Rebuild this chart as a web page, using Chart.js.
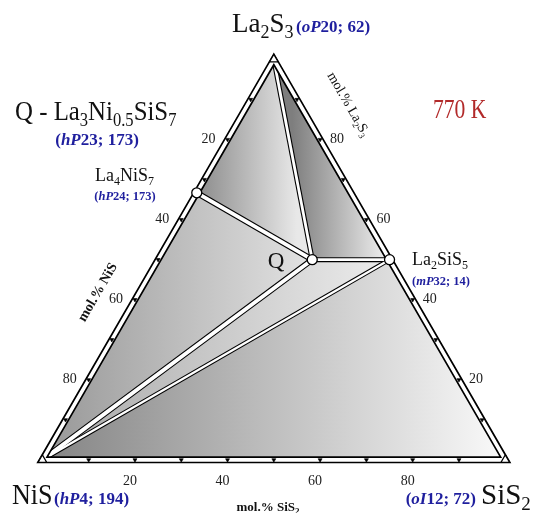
<!DOCTYPE html>
<html>
<head>
<meta charset="utf-8">
<script src="https://cdn.jsdelivr.net/npm/chart.js@4.4.1/dist/chart.umd.min.js"></script>
<style>
  html, body { margin: 0; padding: 0; background: #fff; }
  #wrap { width: 534px; height: 513px; }
</style>
</head>
<body>
<div id="wrap"><canvas id="chart" width="534" height="513"></canvas></div>
<script>
// La2S3 - NiS - SiS2 section at 770 K, compositions in mol.%
const phaseNames = ["La2S3", "NiS", "SiS2", "La4NiS7", "La2SiS5", "Q"];
const phaseLa2S3 = [100, 0, 0, 66.7, 50, 50];
const phaseNiS   = [0, 100, 0, 33.3, 0, 16.7];
const phaseSiS2  = [0, 0, 100, 0, 50, 33.3];

const tieLines = [["NiS", "Q"], ["NiS", "La2SiS5"], ["La4NiS7", "Q"], ["La2S3", "Q"], ["Q", "La2SiS5"]];
const regions = [
  ["La2S3", "La4NiS7", "Q"],
  ["La2S3", "Q", "La2SiS5"],
  ["La4NiS7", "NiS", "Q"],
  ["NiS", "La2SiS5", "Q"],
  ["NiS", "SiS2", "La2SiS5"]
];
const tickValues = [10, 20, 30, 40, 50, 60, 70, 80, 90];
const tickLabels = ["20", "40", "60", "80"];

// styling
const tieWidths = [6, 4.5, 6, 5, 5];
// gradient: from x, to x (cartesian units), colours
const regionShades = [
  [32, 55, "#858585", "#e8e8e8"],
  [54, 75, "#7e7e7e", "#f2f2f2"],
  [1, 58, "#989898", "#e2e2e2"],
  [1, 75, "#a8a8a8", "#ececec"],
  [1, 100, "#858585", "#fafafa"]
];
const SERIF = "'Liberation Serif', 'Times New Roman', serif";
const BLUE = "#1f1f9e";

function tern(la, ni, si) {
  const s = la + ni + si;
  return { x: (si + la / 2) / s * 100, y: la / s * 100 * Math.sqrt(3) / 2 };
}
function phase(name) {
  const i = phaseNames.indexOf(name);
  return tern(phaseLa2S3[i], phaseNiS[i], phaseSiS2[i]);
}
const edgeBottom = v => tern(0, 100 - v, v);
const edgeLeft = v => tern(100 - v, v, 0);
const edgeRight = v => tern(v, 0, 100 - v);

function shade(i) {
  return function (ctx) {
    const ch = ctx.chart;
    const r = regionShades[i];
    if (!ch.chartArea) return r[3];
    const g = ch.ctx.createLinearGradient(ch.scales.x.getPixelForValue(r[0]), 0, ch.scales.x.getPixelForValue(r[1]), 0);
    g.addColorStop(0, r[2]);
    g.addColorStop(1, r[3]);
    return g;
  };
}

const datasets = [];

regions.forEach((reg, i) => {
  const pts = reg.map(phase);
  pts.push(pts[0]);
  datasets.push({
    type: "line", data: pts, fill: "shape", backgroundColor: shade(i),
    borderWidth: 0, pointRadius: 0, tension: 0, order: 100
  });
});

tieLines.forEach((tl, i) => {
  const pts = tl.map(phase);
  datasets.push({ type: "line", data: pts, borderColor: "#000", borderWidth: tieWidths[i], pointRadius: 0, fill: false, order: 60 });
  datasets.push({ type: "line", data: pts, borderColor: "#fff", borderWidth: tieWidths[i] - 2.2, pointRadius: 0, fill: false, order: 50 });
});

// outline of the triangle (double line)
const frame = ["NiS", "SiS2", "La2S3", "NiS", "SiS2"].map(phase);
datasets.push({ type: "line", data: frame, borderColor: "#000", borderWidth: 7, borderJoinStyle: "miter", pointRadius: 0, fill: false, order: 40 });
datasets.push({ type: "line", data: frame, borderColor: "#fff", borderWidth: 3.6, borderJoinStyle: "miter", pointRadius: 0, fill: false, order: 30 });

// ticks
[[edgeBottom, 180], [edgeLeft, -60], [edgeRight, 60]].forEach(([f, rot]) => {
  datasets.push({
    type: "scatter", data: tickValues.map(f), pointStyle: "triangle", pointRadius: 2.3,
    rotation: rot, backgroundColor: "#000", borderColor: "#000", borderWidth: 0.6, order: 20
  });
});

// phase markers
datasets.push({
  type: "scatter", data: ["La4NiS7", "La2SiS5", "Q"].map(phase), pointStyle: "circle", pointRadius: 5,
  backgroundColor: "#fff", borderColor: "#000", borderWidth: 1.3, order: 10
});
datasets.push({
  type: "scatter", data: ["NiS", "SiS2", "La2S3"].map(phase), pointStyle: "triangle", pointRadius: 5,
  backgroundColor: "#fff", borderColor: "#000", borderWidth: 1.2, order: 10
});

function drawRich(c, parts, x, y, o) {
  const size = o.size, weight = o.weight || "normal", sx = o.sx || 1;
  const fontOf = k => (k === "it" ? "italic " : "") + weight + " " + (k === "sub" ? Math.round(size * 0.66) : size) + "px " + SERIF;
  let w = 0;
  parts.forEach(p => { c.font = fontOf(p[1]); w += c.measureText(p[0]).width; });
  c.save();
  c.translate(x, y);
  if (o.rot) c.rotate(o.rot);
  c.scale(sx, 1);
  let cx = o.align === "center" ? -w / 2 : o.align === "right" ? -w : 0;
  const by = o.rot ? size * 0.33 : 0;
  c.fillStyle = o.color || "#111";
  c.textBaseline = "alphabetic";
  parts.forEach(p => {
    c.font = fontOf(p[1]);
    c.fillText(p[0], cx, by + (p[1] === "sub" ? size * 0.22 : 0));
    cx += c.measureText(p[0]).width;
  });
  c.restore();
}

const textPlugin = {
  id: "ternaryText",
  afterDraw(chart) {
    const c = chart.ctx;
    const px = p => ({ x: chart.scales.x.getPixelForValue(p.x), y: chart.scales.y.getPixelForValue(p.y) });

    tickLabels.forEach(t => {
      const v = Number(t);
      let p = px(edgeBottom(v));
      drawRich(c, [[t]], p.x - 5, p.y + 25, { size: 14, align: "center", color: "#222" });
      p = px(edgeLeft(v));
      drawRich(c, [[t]], p.x - 19, p.y + 3, { size: 14, align: "center", color: "#222" });
      p = px(edgeRight(v));
      drawRich(c, [[t]], p.x + 17, p.y + 3, { size: 14, align: "center", color: "#222" });
    });

    // axis titles
    drawRich(c, [["mol.% SiS"], ["2", "sub"]], 268, 511, { size: 13, weight: "bold", align: "center" });
    drawRich(c, [["mol.% NiS"]], 97, 292, { size: 14, weight: "bold", align: "center", rot: -Math.PI / 3 });
    drawRich(c, [["mol.% La"], ["2", "sub"], ["S"], ["3", "sub"]], 349, 104, { size: 14, align: "center", rot: Math.PI / 3 });

    // corner phases
    drawRich(c, [["La"], ["2", "sub"], ["S"], ["3", "sub"]], 232, 32, { size: 27 });
    drawRich(c, [["(", ""], ["oP", "it"], ["20; 62)", ""]], 296, 32, { size: 17, weight: "bold", color: BLUE });

    drawRich(c, [["NiS"]], 12, 504, { size: 29, sx: 0.9 });
    drawRich(c, [["(", ""], ["hP", "it"], ["4; 194)", ""]], 54, 504, { size: 17, weight: "bold", color: BLUE });

    drawRich(c, [["S"], ["i"], ["S"], ["2", "sub"]], 481, 504, { size: 29 });
    drawRich(c, [["(", ""], ["oI", "it"], ["12; 72)", ""]], 476, 504, { size: 17, weight: "bold", color: BLUE, align: "right" });

    // compounds
    drawRich(c, [["Q - La"], ["3", "sub"], ["Ni"], ["0.5", "sub"], ["SiS"], ["7", "sub"]], 15, 120, { size: 27, sx: 0.92 });
    drawRich(c, [["(", ""], ["hP", "it"], ["23; 173)", ""]], 97, 145, { size: 17, weight: "bold", color: BLUE, align: "center" });

    drawRich(c, [["La"], ["4", "sub"], ["NiS"], ["7", "sub"]], 95, 181, { size: 18 });
    drawRich(c, [["(", ""], ["hP", "it"], ["24; 173)", ""]], 125, 200, { size: 12.5, weight: "bold", color: BLUE, align: "center" });

    drawRich(c, [["La"], ["2", "sub"], ["SiS"], ["5", "sub"]], 412, 265, { size: 18 });
    drawRich(c, [["(", ""], ["mP", "it"], ["32; 14)", ""]], 441, 285, { size: 12.5, weight: "bold", color: BLUE, align: "center" });

    drawRich(c, [["Q"]], 276, 268, { size: 23, align: "center" });

    drawRich(c, [["770 K"]], 433, 118, { size: 27, sx: 0.8, color: "#b22a2a" });
  }
};

new Chart(document.getElementById("chart"), {
  type: "scatter",
  data: { datasets: datasets },
  options: {
    responsive: false,
    maintainAspectRatio: false,
    devicePixelRatio: 1,
    animation: false,
    events: [],
    layout: { padding: 0 },
    elements: { line: { tension: 0, borderCapStyle: "butt" } },
    scales: {
      x: { type: "linear", display: false, min: -7.8, max: 104.85 },
      y: { type: "linear", display: false, min: -10.13, max: 98.1 }
    },
    plugins: { legend: { display: false }, tooltip: { enabled: false } }
  },
  plugins: [textPlugin]
});
</script>
</body>
</html>
